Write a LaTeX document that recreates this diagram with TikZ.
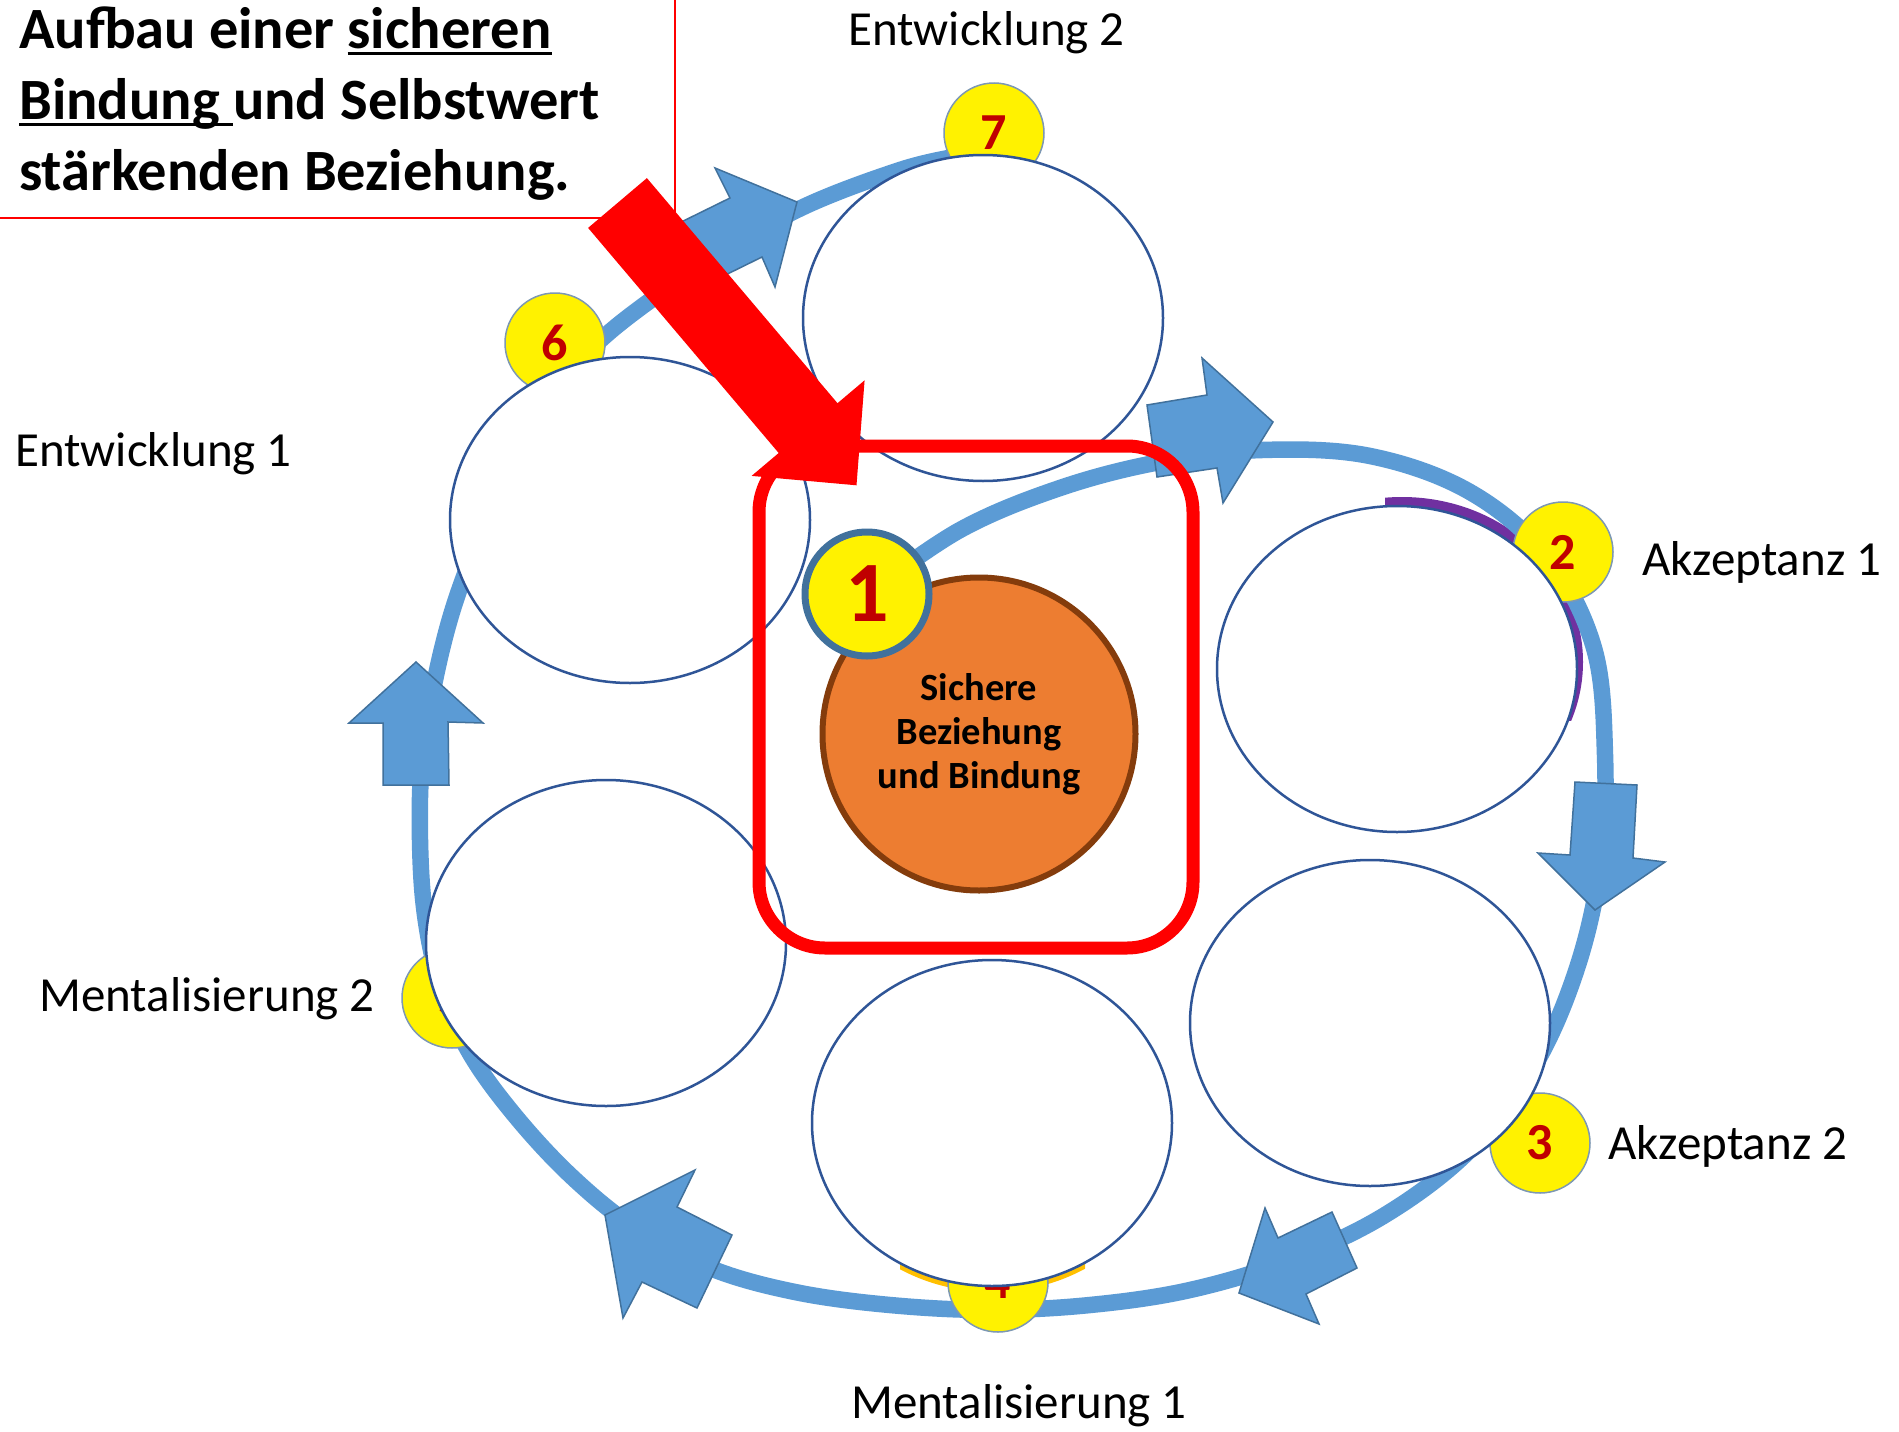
\documentclass[tikz,border=0pt]{standalone}
\usepackage{fontspec}
\setmainfont{Carlito}
\usetikzlibrary{shapes.geometric}

\definecolor{ringblue}{HTML}{5B9BD5}
\definecolor{arrowedge}{HTML}{41719C}
\definecolor{navy}{HTML}{2F5597}
\definecolor{orangefill}{HTML}{ED7D31}
\definecolor{brownedge}{HTML}{843C0C}
\definecolor{spokebrown}{HTML}{C55A11}
\definecolor{digitred}{HTML}{C00000}
\definecolor{badgeedge}{HTML}{7D98B3}
\definecolor{purpleacc}{HTML}{7030A0}
\definecolor{goldacc}{HTML}{FFC000}
\definecolor{alertred}{HTML}{FF0000}

% underline drawn just below the baseline, crossing descenders
\newcommand\ulx[1]{\setbox0=\hbox{#1}\rlap{\rule[-0.12em]{\wd0}{0.055em}}\box0}

\pgfdeclarelayer{under}
\pgfsetlayers{under,main}

\tikzset{
  bubble/.style={ellipse, draw=navy, fill=white, line width=2.5pt,
    minimum width=360pt, minimum height=326pt, inner sep=0pt},
  badge/.style={circle, fill=yellow, draw=badgeedge, line width=1.5pt,
    minimum size=100pt, inner sep=0pt, text=digitred,
    font=\bfseries\fontsize{52}{52}\selectfont},
  ringline/.style={draw=ringblue, line width=16.5pt, line join=round},
  blockarrow/.style={fill=ringblue, draw=arrowedge, line width=1.5pt, line join=miter},
  spokeline/.style={draw=spokebrown, line width=2pt},
  lbl/.style={anchor=base west, inner sep=0pt, font=\fontsize{49}{49}\selectfont},
  headline/.style={anchor=base west, inner sep=0pt, font=\bfseries\fontsize{58.5}{70}\selectfont},
}

\begin{document}
\begin{tikzpicture}[x=1pt,y=-1pt]
\useasboundingbox[fill=white] (0,0) rectangle (1899,1432);

% coloured accents peeking out behind two bubbles
\begin{scope}
  \clip (1385,480) rectangle (1600,720);
  \fill[purpleacc] (1402,662) ellipse [x radius=181, y radius=165];
\end{scope}

% the cycle path
\draw[ringline] plot[smooth, tension=0.6] coordinates {
  (867,594) (960,530) (1060,488) (1160,462) (1262,450)
  (1370,456) (1470,492) (1548,558) (1594,648) (1605,755)
  (1601,860) (1578,965) (1535,1065) (1470,1150) (1385,1215)
  (1290,1260) (1190,1290) (1090,1305) (990,1310) (890,1305)
  (795,1292) (710,1268) (635,1228) (570,1175) (512,1112)
  (468,1050) (440,985) (425,915) (420,840) (422,760)
  (434,685) (452,612) (478,540) (508,468) (542,405)
  (590,350) (640,308) (700,268) (797,210) (900,170) (960,156)};

\begin{scope}
  \clip (900,1200) rectangle (1085,1300);
  \fill[goldacc] (992,1128) ellipse [x radius=181, y radius=164];
\end{scope}

% numbered stations
\node[badge] (n7) at (994,133) {7};
\node[badge] (n6) at (555,343) {6};
\node[badge] (n2) at (1563,552) {2};
\node[badge] (n3) at (1540,1143) {3};
\node[badge] (n4) at (998,1282) {4};
\node[badge] (n5) at (452,998) {5};

% empty bubbles
\node[bubble] (e7) at (983,318) {};
\node[bubble] (e6) at (630,520) {};
\node[bubble] (e2) at (1397,669) {};
\node[bubble] (e3) at (1370,1023) {};
\node[bubble] (e4) at (992,1123) {};
\node[bubble] (e5) at (606,943) {};

% block arrows along the cycle
\filldraw[blockarrow] (1147,405) -- (1207,395) -- (1202,358) -- (1273,422)
  -- (1223,503) -- (1217,468) -- (1157,477) -- cycle;
\filldraw[blockarrow] (1575,782) -- (1637,785) -- (1633,858) -- (1665,862)
  -- (1595,910) -- (1538,853) -- (1570,855) -- cycle;
\filldraw[blockarrow] (1332,1212) -- (1357,1268) -- (1306,1294) -- (1319,1324)
  -- (1239,1293) -- (1265,1208) -- (1278,1238) -- cycle;
\filldraw[blockarrow] (697,1308) -- (732,1235) -- (677,1207) -- (695,1170)
  -- (605,1215) -- (623,1318) -- (642,1282) -- cycle;
\filldraw[blockarrow] (383,785) -- (449,785) -- (448,722) -- (483,723)
  -- (416,662) -- (349,723) -- (383,723) -- cycle;
\filldraw[blockarrow] (667,229) -- (730,198) -- (715,168) -- (797,202)
  -- (775,287) -- (762,257) -- (699,288) -- cycle;

% centre
\node[circle, fill=orangefill, draw=brownedge, line width=6pt,
  minimum size=313pt, inner sep=0pt, align=center,
  font=\bfseries\fontsize{38.5}{44}\selectfont] (core) at (979,734)
  {Sichere\\Beziehung\\und Bindung};

\begin{pgfonlayer}{under}
  \foreach \e in {e7,e6,e2,e3,e4,e5}
    \draw[spokeline] (core.center) -- (\e.center);
\end{pgfonlayer}

\node[badge, minimum size=124pt, line width=7pt, draw=arrowedge,
  font=\bfseries\fontsize{86}{86}\selectfont] (n1) at (867,594) {1};

% highlight frame
\draw[alertred, line width=13pt, rounded corners=66pt] (759,446) rectangle (1193,948);

% heading
\draw[alertred, line width=2pt] (0,218) -- (675,218) -- (675,0);
\node[headline] (h1) at (19,48) {Aufbau einer \ulx{sicheren}};
\node[headline] (h2) at (19,119) {\ulx{Bindung\ }und Selbstwert};
\node[headline] (h3) at (19,190) {stärkenden Beziehung.};

% pointer
\fill[alertred] (646.9,178.1) -- (837.5,403.2) -- (864.6,380.3) -- (856.5,485.3)
  -- (751.6,475.9) -- (778.7,453) -- (588.1,227.9) -- cycle;

% station labels
\node[lbl] (l7) at (848,45) {Entwicklung 2};
\node[lbl] (l6) at (15,466) {Entwicklung 1};
\node[lbl] (l2) at (1642,575) {Akzeptanz 1};
\node[lbl] (l3) at (1608,1159) {Akzeptanz 2};
\node[lbl] (l5) at (39,1011) {Mentalisierung 2};
\node[lbl] (l4) at (851,1418) {Mentalisierung 1};
\end{tikzpicture}
\end{document}
